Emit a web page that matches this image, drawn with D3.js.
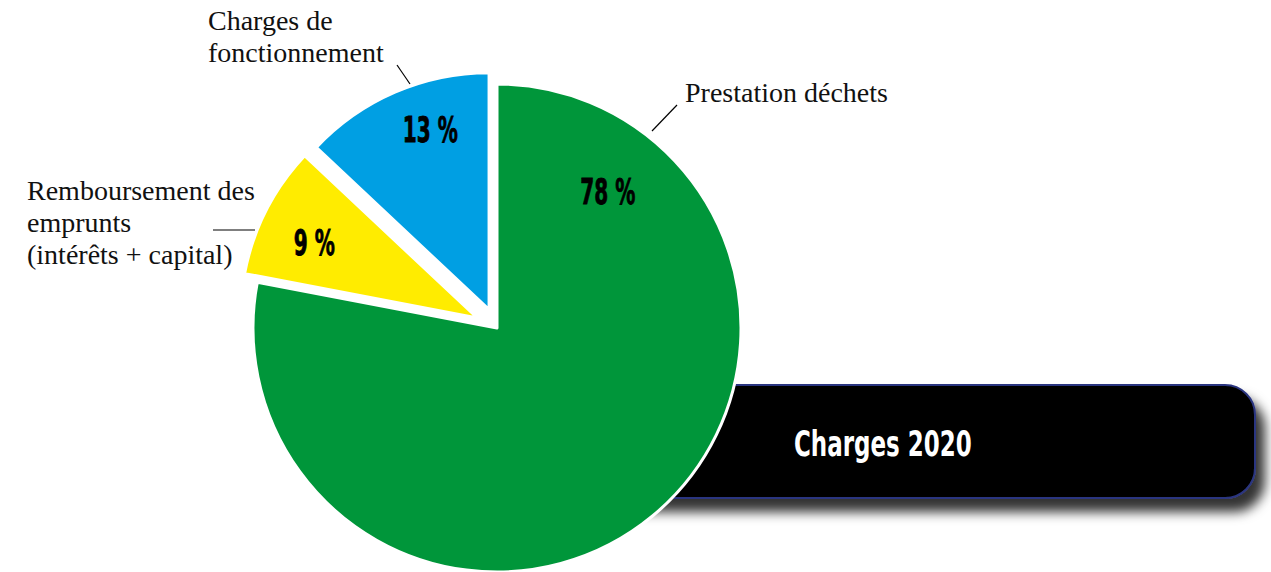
<!DOCTYPE html>
<html>
<head>
<meta charset="utf-8">
<script src="https://cdn.jsdelivr.net/npm/d3@7"></script>
<style>
  body { margin: 0; background: #fff; }
  svg { display: block; }
</style>
</head>
<body>
<script>
// data
var categories = ["Prestation déchets", "Remboursement des emprunts (intérêts + capital)", "Charges de fonctionnement"];
var values = [78, 9, 13];
var percentLabels = ["78 %", "9 %", "13 %"];
var labelLines = [["Prestation déchets"], ["Remboursement des", "emprunts", "(intérêts + capital)"], ["Charges de", "fonctionnement"]];
var title = "Charges 2020";

var width = 1271;
var height = 572;
var center = [497, 328];
var radius = 244;
var colors = ["#00963a", "#ffec00", "#009fe3"];
var explode = [0, 22, 20];
var shrink = [0, 7, 7]; // exploded slices are a bit smaller

// position of % labels (angle in deg, radius) inside each slice
var pctPos = [[39, 176], [295, 180], [342, 190]];

var condensed = "'DejaVu Sans Condensed', 'DejaVu Sans', sans-serif";
var serif = "'Liberation Serif', 'DejaVu Serif', serif";

var svg = d3.select("body")
  .append("svg")
  .attr("width", width)
  .attr("height", height);

var defs = svg.append("defs");
var shadow = defs.append("filter")
  .attr("id", "shadow")
  .attr("x", "-10%").attr("y", "-20%")
  .attr("width", "130%").attr("height", "160%");
shadow.append("feDropShadow")
  .attr("dx", 9).attr("dy", 13)
  .attr("stdDeviation", 6)
  .attr("flood-color", "#000")
  .attr("flood-opacity", 0.8);

// title box behind the pie
var box = svg.append("g");
box.append("rect")
  .attr("x", 560)
  .attr("y", 385)
  .attr("width", 1255 - 560)
  .attr("height", 113)
  .attr("rx", 30)
  .attr("fill", "#000")
  .attr("stroke", "#2b3580")
  .attr("stroke-width", 2)
  .attr("filter", "url(#shadow)");
box.append("text")
  .attr("transform", "translate(794,456) scale(0.71,1)")
  .attr("fill", "#fff")
  .attr("font-family", condensed)
  .attr("font-weight", "bold")
  .attr("font-size", 36)
  .text(title);

var pie = d3.pie().sort(null).value(d => d);
var arcs = pie(values);
var arc = d3.arc().innerRadius(0).outerRadius((d, i) => radius - shrink[d.index]);

function polar(a, r) {
  var rad = a * Math.PI / 180;
  return [r * Math.sin(rad), -r * Math.cos(rad)];
}

var slice = svg.append("g")
  .attr("transform", "translate(" + center[0] + "," + center[1] + ")")
  .selectAll("g")
  .data(arcs)
  .enter()
  .append("g")
  .attr("transform", (d, i) => {
    var mid = (d.startAngle + d.endAngle) / 2 * 180 / Math.PI;
    var o = polar(mid, explode[i]);
    return "translate(" + o[0] + "," + o[1] + ")";
  });

slice.append("path")
  .attr("d", arc)
  .attr("fill", (d, i) => colors[i])
  .attr("stroke", "#fff")
  .attr("stroke-width", 3)
  .attr("stroke-linejoin", "round");

slice.append("text")
  .attr("transform", (d, i) => {
    var p = polar(pctPos[i][0], pctPos[i][1]);
    return "translate(" + p[0] + "," + p[1] + ") scale(0.62,1)";
  })
  .attr("text-anchor", "middle")
  .attr("dy", "0.36em")
  .attr("font-family", condensed)
  .attr("font-weight", "bold")
  .attr("font-size", 36)
  .attr("fill", "#000")
  .attr("stroke", "#000")
  .attr("stroke-width", 0.8)
  .text((d, i) => percentLabels[i]);

// leader lines & category labels
var lineH = 32;
var leaders = [
  { from: [652, 131], to: [677, 105], text: [685, 102] },
  { from: [255, 230], to: [213, 230], text: [27, 200] },
  { from: [410, 84], to: [397, 65], text: [208, 30] }
];

var ann = svg.append("g");
ann.selectAll("line")
  .data(leaders)
  .enter()
  .append("line")
  .attr("x1", d => d.from[0]).attr("y1", d => d.from[1])
  .attr("x2", d => d.to[0]).attr("y2", d => d.to[1])
  .attr("stroke", "#000")
  .attr("stroke-width", 1.2);

ann.selectAll("text")
  .data(leaders)
  .enter()
  .append("text")
  .attr("font-family", serif)
  .attr("font-size", 28)
  .attr("fill", "#111")
  .each(function(d, i) {
    d3.select(this).selectAll("tspan")
      .data(labelLines[i])
      .enter()
      .append("tspan")
      .attr("x", d.text[0])
      .attr("y", (t, j) => d.text[1] + j * lineH)
      .text(t => t);
  });
</script>
</body>
</html>
